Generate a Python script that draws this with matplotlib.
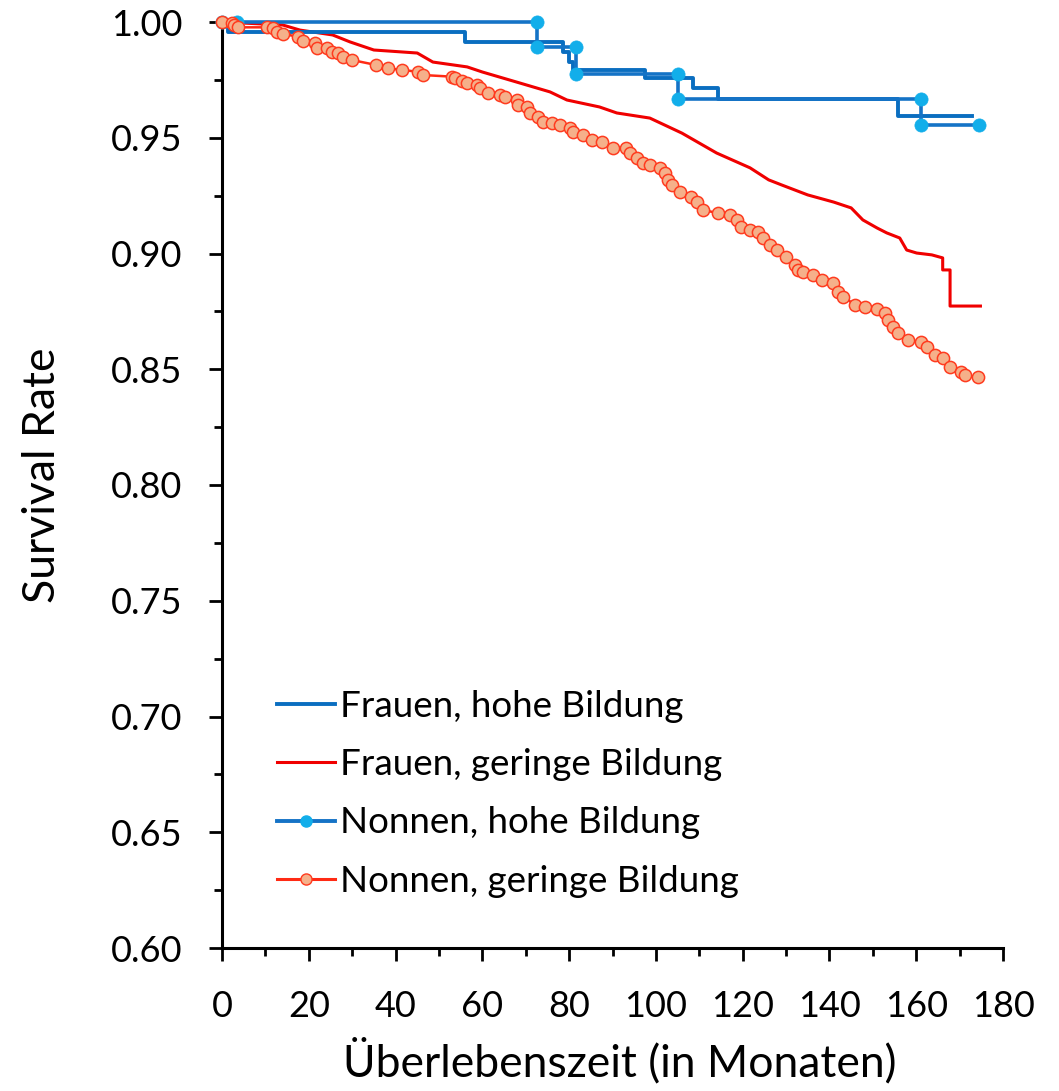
import matplotlib
matplotlib.use("Agg")
import matplotlib.pyplot as plt
from matplotlib.lines import Line2D
from matplotlib.ticker import MultipleLocator, FormatStrFormatter

plt.rcParams['font.family'] = ['Lato', 'DejaVu Sans']

# ---- data ----
labels = ["Frauen, hohe Bildung", "Frauen, geringe Bildung",
          "Nonnen, hohe Bildung", "Nonnen, geringe Bildung"]

# Frauen, hohe Bildung (step curve)
fh_t = [0, 1.4, 56, 78.5, 80, 80.8, 97.5, 108.5, 114.3, 155.8, 172.8]
fh_v = [1.0, 0.9957, 0.9914, 0.9871, 0.9827, 0.9793, 0.9758, 0.9715, 0.9667, 0.9594, 0.9594]

# Frauen, geringe Bildung
fg_t = [0, 14, 18, 25.5, 29.5, 35, 45, 48.6, 56.5, 60, 68, 75.6, 79.5, 87, 91, 98.6,
        106, 114, 121.7, 126, 129, 135, 141, 145, 147.7, 151, 153.2, 156.2, 157.8,
        160.1, 163.6, 166.1, 166.1, 167.8, 167.8, 174.8]
fg_v = [1.0, 0.9987, 0.9965, 0.9944, 0.9914, 0.9879, 0.9866, 0.9827, 0.9806, 0.9784,
        0.974, 0.9698, 0.9663, 0.9633, 0.9607, 0.9585, 0.952, 0.9434, 0.937, 0.9318,
        0.9296, 0.9253, 0.9222, 0.9197, 0.9145, 0.911, 0.9089, 0.9067, 0.9015, 0.9002,
        0.8994, 0.8981, 0.8929, 0.8929, 0.8773, 0.8773]

# Nonnen, hohe Bildung
nh_t = [0, 3.5, 72.5, 72.5, 81.5, 81.5, 105, 105, 161, 161, 174.5]
nh_v = [1.0, 1.0, 1.0, 0.989, 0.989, 0.9775, 0.9775, 0.9667, 0.9667, 0.9555, 0.9555]

# Nonnen, geringe Bildung
ng_t = [0, 2.2, 2.8, 3.7, 10.3, 11.8, 12.6, 14.1, 17.5, 18.7, 21.4, 21.8, 24.1, 25.3,
        26.7, 27.9, 29.9, 35.6, 38.2, 41.4, 45.2, 46.3, 52.9, 53.7, 55.2, 56.4, 58.7,
        59.4, 61.4, 64.1, 65.2, 67.9, 68.3, 70.2, 71.0, 72.9, 74.0, 76.0, 77.9, 80.2,
        80.9, 83.2, 85.2, 87.5, 90.2, 93.2, 94.0, 95.6, 97.1, 98.6, 100.9, 102.1, 102.8,
        103.6, 105.5, 108.2, 109.4, 110.9, 114.4, 117.1, 118.6, 119.7, 121.7, 123.6,
        124.7, 126.3, 127.8, 130.1, 132.0, 132.8, 133.9, 136.2, 138.2, 140.9, 142.0,
        143.2, 145.9, 148.2, 150.9, 152.8, 153.5, 154.7, 155.8, 158.1, 161.2, 162.4,
        164.3, 166.2, 167.7, 170.4, 171.2, 174.3]
ng_v = [1.0, 0.9997, 0.9987, 0.9977, 0.9977, 0.9973, 0.9958, 0.9948, 0.9937, 0.9919,
        0.9908, 0.9886, 0.9886, 0.9872, 0.9865, 0.9850, 0.9836, 0.9814, 0.9800, 0.9793,
        0.9785, 0.9771, 0.9764, 0.9757, 0.9746, 0.9735, 0.9728, 0.9714, 0.9692, 0.9685,
        0.9675, 0.9663, 0.9641, 0.9634, 0.9606, 0.9591, 0.9569, 0.9565, 0.9555, 0.9541,
        0.9526, 0.9512, 0.9490, 0.9483, 0.9454, 0.9454, 0.9433, 0.9411, 0.9390, 0.9382,
        0.9368, 0.9346, 0.9317, 0.9296, 0.9267, 0.9245, 0.9224, 0.9188, 0.9174, 0.9166,
        0.9145, 0.9116, 0.9102, 0.9094, 0.9066, 0.9037, 0.9015, 0.8986, 0.8950, 0.8929,
        0.8921, 0.8907, 0.8886, 0.8871, 0.8835, 0.8813, 0.8778, 0.8768, 0.8759, 0.8742,
        0.8713, 0.8684, 0.8655, 0.8626, 0.8619, 0.8597, 0.8562, 0.8547, 0.8511, 0.8489,
        0.8475, 0.8465]

x_ticks = [0, 20, 40, 60, 80, 100, 120, 140, 160, 180]
y_ticks = [0.60, 0.65, 0.70, 0.75, 0.80, 0.85, 0.90, 0.95, 1.00]

# ---- colours ----
c_fh = '#0A6EC0'
c_fg = '#F00000'
c_nh_line = '#1573C6'
c_nh_mark = '#12AEEA'
c_ng_line = '#FF2A14'
c_ng_fill = '#F5B08A'
c_ng_edge = '#FF3B1F'

fig = plt.figure(figsize=(10.59, 10.91), dpi=100)
ax = fig.add_axes([222/1059, 1-948/1091, (1003-222)/1059, (948-22)/1091])

ax.plot(fg_t, fg_v, color=c_fg, lw=2.2, zorder=3)
ax.plot(fh_t, fh_v, color=c_fh, lw=2.8, drawstyle='steps-post', zorder=4)
ax.plot(nh_t, nh_v, color=c_nh_line, lw=2.6, zorder=5, marker='o', ms=9.5,
        mfc=c_nh_mark, mec=c_nh_mark, mew=0.5, clip_on=False)
ax.plot(ng_t, ng_v, color=c_ng_line, lw=1.8, zorder=6, marker='o', ms=8.8,
        mfc=c_ng_fill, mec=c_ng_edge, mew=1.1, clip_on=False)

ax.set_xlim(0, 180)
ax.set_ylim(0.6, 1.0)
ax.set_xticks(x_ticks)
ax.set_yticks(y_ticks)
ax.xaxis.set_minor_locator(MultipleLocator(10))
ax.yaxis.set_minor_locator(MultipleLocator(0.025))
ax.yaxis.set_major_formatter(FormatStrFormatter('%.2f'))

for s in ['top', 'right']:
    ax.spines[s].set_visible(False)
for s in ['left', 'bottom']:
    ax.spines[s].set_linewidth(2.2)
    ax.spines[s].set_color('black')

ax.tick_params(axis='both', which='major', direction='out', length=9.5, width=2.0,
               labelsize=26, colors='black')
ax.tick_params(axis='both', which='minor', direction='out', length=6, width=2.0)
ax.tick_params(axis='y', which='major', pad=19)
ax.tick_params(axis='x', which='major', pad=21)

ax.set_xlabel('Überlebenszeit (in Monaten)', fontsize=32)
ax.set_ylabel('Survival Rate', fontsize=32)
ax.xaxis.set_label_coords(0.5096, -0.097)
ax.yaxis.set_label_coords(-0.203, 0.511)

handles = [
    Line2D([], [], color=c_fh, lw=2.8),
    Line2D([], [], color=c_fg, lw=2.2),
    Line2D([], [], color=c_nh_line, lw=2.8, marker='o', ms=8, mfc=c_nh_mark, mec=c_nh_mark),
    Line2D([], [], color=c_ng_line, lw=2.2, marker='o', ms=8, mfc=c_ng_fill, mec=c_ng_edge, mew=1.0),
]
leg = ax.legend(handles, labels, loc='upper left', bbox_to_anchor=(0.0704, 0.279),
                frameon=False, fontsize=26.5, handlelength=1.58, handletextpad=0.14,
                labelspacing=0.69, borderpad=0, borderaxespad=0)

fig.savefig('out.png', dpi=100)
